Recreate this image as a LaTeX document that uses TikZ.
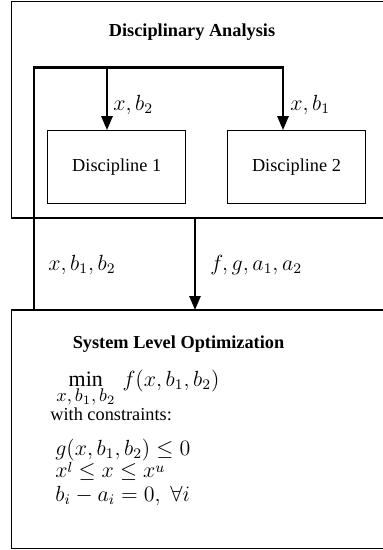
\documentclass[tikz,border=0pt]{standalone}
\usepackage{fontspec}
\setmainfont{Liberation Serif}
\usetikzlibrary{arrows.meta}

% superscript set a little lower than TeX's default
\newcommand{\lowsup}[1]{\raisebox{2.6pt}{$\scriptstyle #1$}}

\begin{document}
\begin{tikzpicture}[x=0.5464pt,y=-0.5464pt,
  box/.style={draw, line width=0.6pt},
  flow/.style={line width=1.4pt},
  flowarrow/.style={flow, -{Triangle[width=6pt,length=7.6pt]}},
  discbox/.style={box, minimum width=75.4pt, minimum height=40pt, inner sep=0pt},
  lbl/.style={anchor=base west, inner sep=0pt},
  mathlbl/.style={lbl, font=\large},
  heading/.style={anchor=base, inner sep=0pt, font=\bfseries}]
\useasboundingbox (0,0) rectangle (383,550);

% containers, open towards the right
\draw[box] (383,1.5) -- (11.7,1.5) -- (11.7,218) -- (383,218);
\draw[box] (383,310) -- (11.7,310) -- (11.7,548.5) -- (383,548.5);

\node[heading] (daTitle) at (192,36.7) {Disciplinary Analysis};
\node[heading] (sloTitle) at (178.5,348) {System Level Optimization};

% disciplines
\node[discbox] (d1) at (116.7,167.3) {Discipline 1};
\node[discbox] (d2) at (296.5,167.3) {Discipline 2};

% connection points
\coordinate (sloL) at (34,310);
\coordinate (busR) at (283,67.7);
\coordinate (tap1) at (107,67.7);
\coordinate (daB) at (195,218);
\coordinate (sloT) at (195,310);

% design variables flowing up and across the bus
\draw[flowarrow] (sloL) |- (busR) -- (busR |- d2.north);
\draw[flowarrow] (tap1) -- (tap1 |- d1.north);
% responses back to the optimizer
\draw[flowarrow] (daB) -- (sloT);

% connector labels
\node[mathlbl] (l1) at (113,110) {$x,b_2$};
\node[mathlbl] (l2) at (290,110) {$x,b_1$};
\node[mathlbl] (l3) at (48,270) {$x,b_1,b_2$};
\node[mathlbl] (l4) at (210,270) {$f,g,a_1,a_2$};

% optimization problem
\node[mathlbl] (obj) at (56,386)
  {$\mathop{\min}\limits_{\mbox{\normalsize$x,b_1,b_2$}}\,f(x,b_1,b_2)$};
\node[lbl] (wc) at (50,420) {with constraints:};
\node[mathlbl] (c1) at (55,455) {$g(x,b_1,b_2)\leq 0$};
\node[mathlbl] (c2) at (55,477) {$x\lowsup{l}\leq x\leq x\lowsup{u}$};
\node[mathlbl] (c3) at (55,501.5) {$b_i-a_i=0,\;\forall i$};
\end{tikzpicture}
\end{document}
